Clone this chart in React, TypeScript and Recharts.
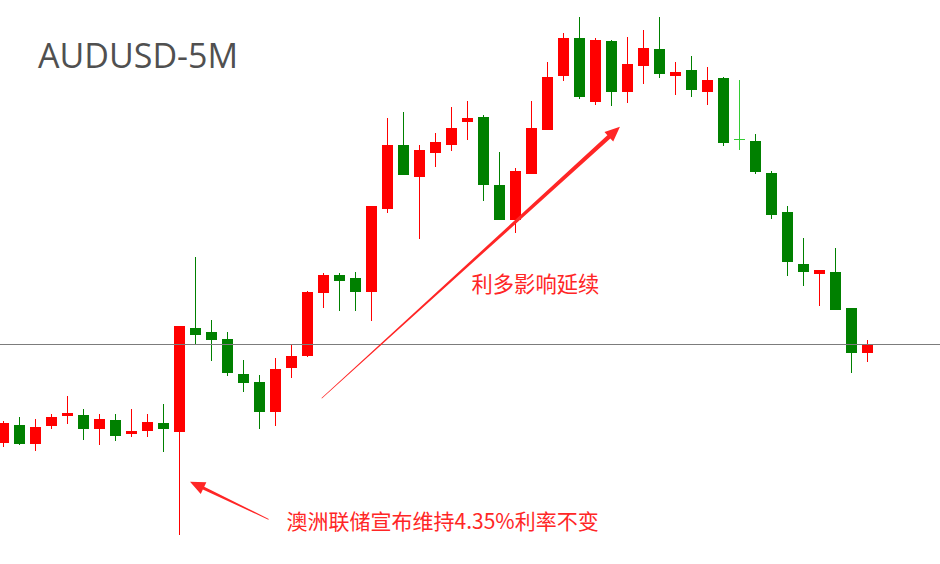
import { Bar, ComposedChart, ReferenceLine, XAxis, YAxis } from "recharts";

// AUDUSD 5-minute candles, left to right
const opens = [
  0.66121, 0.66139, 0.6612, 0.66138, 0.66148, 0.66149, 0.66135, 0.66144, 0.6613, 0.66133, 0.66141,
  0.66132, 0.66236, 0.66232, 0.66225, 0.6619, 0.66182, 0.66152, 0.66196, 0.66208, 0.66271, 0.66289,
  0.66286, 0.66272, 0.66355, 0.66419, 0.66387, 0.66411, 0.66419, 0.66442, 0.66447, 0.66379, 0.66344,
  0.6639, 0.66434, 0.66488, 0.66526, 0.66462, 0.66523, 0.66472, 0.66498, 0.66515, 0.66488, 0.66494,
  0.66472, 0.66486, 0.66425, 0.66423, 0.66391, 0.66352, 0.663, 0.6629, 0.66292, 0.66256, 0.66211,
];
const closes = [
  0.66141, 0.6612, 0.66137, 0.66147, 0.66151, 0.66135, 0.66145, 0.66128, 0.66133, 0.66142, 0.66135,
  0.66238, 0.66229, 0.66224, 0.66191, 0.66181, 0.66152, 0.66195, 0.66208, 0.66272, 0.66289, 0.66283,
  0.66272, 0.66358, 0.66419, 0.66389, 0.66414, 0.66422, 0.66436, 0.66446, 0.66379, 0.66344, 0.66393,
  0.66436, 0.66487, 0.66526, 0.66467, 0.66524, 0.66472, 0.665, 0.66516, 0.6649, 0.66492, 0.66474,
  0.66484, 0.66421, 0.66425, 0.66392, 0.66349, 0.66302, 0.66292, 0.66294, 0.66254, 0.66211, 0.6622,
];
const highs = [
  0.66143, 0.66147, 0.66145, 0.6615, 0.66168, 0.66155, 0.6615, 0.6615, 0.66155, 0.6615, 0.6616,
  0.66238, 0.66307, 0.66244, 0.66232, 0.66204, 0.66189, 0.66206, 0.6622, 0.66273, 0.66291, 0.66291,
  0.66292, 0.66358, 0.66446, 0.66452, 0.66419, 0.66431, 0.66457, 0.66463, 0.66449, 0.66412, 0.66396,
  0.66463, 0.66502, 0.66531, 0.66547, 0.66526, 0.66524, 0.66527, 0.66534, 0.66547, 0.66502, 0.66508,
  0.66497, 0.66487, 0.66484, 0.6643, 0.66393, 0.66358, 0.66326, 0.66294, 0.66316, 0.66256, 0.66224,
];
const lows = [
  0.66117, 0.66119, 0.66113, 0.66135, 0.6614, 0.66124, 0.66119, 0.66123, 0.66127, 0.66127, 0.66112,
  0.66029, 0.6622, 0.66203, 0.66188, 0.66172, 0.66135, 0.66138, 0.66186, 0.66207, 0.66256, 0.66253,
  0.66253, 0.66243, 0.66351, 0.66389, 0.66325, 0.66397, 0.66413, 0.66424, 0.66363, 0.66344, 0.66331,
  0.6639, 0.66434, 0.66483, 0.66465, 0.66459, 0.66458, 0.66461, 0.6648, 0.66486, 0.66469, 0.66467,
  0.66459, 0.66418, 0.66414, 0.6639, 0.66345, 0.66288, 0.66278, 0.66258, 0.66254, 0.66191, 0.66202,
];
const lastPrice = 0.6622;

// annotation arrows: [tail, tip] as [candle index, price]
const rbaArrow = [
  [16.58, 0.660447],
  [11.67, 0.660823],
];
const trendArrow = [
  [19.9, 0.661657],
  [38.54, 0.664373],
];

const title = "AUDUSD-5M";
const rbaNote = "澳洲联储宣布维持4.35%利率不变";
const trendNote = "利多影响延续";

const UP = "#ff0000";
const DOWN = "#008000";
const FLAT = "#33cc33";
const NOTE = "#ff2626";

const data = opens.map((open, i) => ({
  i,
  open,
  close: closes[i],
  high: highs[i],
  low: lows[i],
  range: [lows[i], highs[i]],
}));

function Candle(props: any) {
  const { x, y, width, height, payload } = props;
  const { open, close, high, low } = payload;
  const top = Math.min(y, y + height);
  const h = Math.abs(height);
  const k = h / (high - low);
  const py = (v: number) => top + (high - v) * k;
  const cx = Math.round(x + width / 2);
  const color = close > open ? UP : close < open ? DOWN : FLAT;
  const bTop = py(Math.max(open, close));
  const bBot = py(Math.min(open, close));
  return (
    <g shapeRendering="crispEdges">
      <rect x={cx} y={top} width={1} height={h} fill={color} />
      <rect x={cx - 5} y={bTop} width={11} height={Math.max(1, bBot - bTop)} fill={color} />
    </g>
  );
}

function makeArrow(head: number, headW: number, w0: number, w1: number) {
  return (p: any) => {
    const { x1, y1, x2, y2 } = p;
    const dx = x2 - x1;
    const dy = y2 - y1;
    const len = Math.hypot(dx, dy);
    const ux = dx / len;
    const uy = dy / len;
    const nx = -uy;
    const ny = ux;
    const bx = x2 - ux * head;
    const by = y2 - uy * head;
    const pts = [
      [x1 + nx * w0, y1 + ny * w0],
      [bx + nx * w1, by + ny * w1],
      [bx + nx * headW, by + ny * headW],
      [x2, y2],
      [bx - nx * headW, by - ny * headW],
      [bx - nx * w1, by - ny * w1],
      [x1 - nx * w0, y1 - ny * w0],
    ];
    return <polygon points={pts.map((q) => q.join(",")).join(" ")} fill={NOTE} />;
  };
}

const toSeg = (a: number[][]) => a.map(([x, y]) => ({ x, y }));

export default function App() {
  return (
    <div style={{ position: "absolute", left: 0, top: 0, width: 940, height: 564, background: "#fff" }}>
      <ComposedChart width={940} height={564} data={data} margin={{ top: 0, right: 0, bottom: 0, left: 0 }}>
        <XAxis dataKey="i" type="number" domain={[-0.20625, 58.54375]} hide allowDataOverflow />
        <YAxis type="number" domain={[0.66, 0.66564]} hide allowDataOverflow />
        <ReferenceLine y={lastPrice} stroke="#7c7c7c" strokeWidth={1} shapeRendering="crispEdges" />
        <Bar dataKey="range" barSize={11} shape={Candle} isAnimationActive={false} />
        <ReferenceLine segment={toSeg(rbaArrow)} shape={makeArrow(15, 6.5, 0.4, 1.6)} />
        <ReferenceLine segment={toSeg(trendArrow)} shape={makeArrow(15, 6.5, 0.3, 2.2)} />
      </ComposedChart>
      <svg width={940} height={564} style={{ position: "absolute", left: 0, top: 0, pointerEvents: "none" }}>
        <text x={38} y={68} fontFamily="'Open Sans', sans-serif" fontSize={34} fill="#505050">
          {title}
        </text>
        <text x={471.5} y={291.5} fontFamily="'Noto Sans CJK SC', sans-serif" fontSize={21.3} fill={NOTE}>
          {trendNote}
        </text>
        <text x={286.5} y={528.5} fontFamily="'Noto Sans CJK SC', sans-serif" fontSize={21} fill={NOTE}>
          {rbaNote}
        </text>
      </svg>
    </div>
  );
}
